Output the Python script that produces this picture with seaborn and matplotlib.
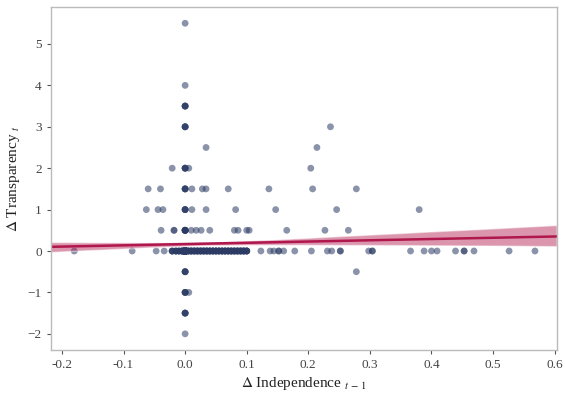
import numpy as np
import pandas as pd
import matplotlib
matplotlib.use("Agg")
import matplotlib.pyplot as plt
import seaborn as sns

# ---- data ----
# off-zero points: x, y and how many observations share that spot
sparse_x = [0, 0, 0, 0.236,
            0, 0.034, 0.214,
            -0.021, 0, 0.006, 0.204,
            -0.06, -0.04, 0, 0.011, 0.028, 0.034, 0.07, 0.136, 0.207, 0.278,
            -0.063, -0.044, -0.036, 0, 0.011, 0.034, 0.082, 0.147, 0.246, 0.38,
            -0.039, -0.018, 0, 0.01, 0.018, 0.026, 0.04, 0.08, 0.086,
            0.1, 0.104, 0.165, 0.227, 0.265,
            0, 0.278,
            0, 0.006,
            0,
            0]
sparse_y = [5.5, 4, 3.5, 3,
            3, 2.5, 2.5,
            2, 2, 2, 2,
            1.5, 1.5, 1.5, 1.5, 1.5, 1.5, 1.5, 1.5, 1.5, 1.5,
            1, 1, 1, 1, 1, 1, 1, 1, 1, 1,
            0.5, 0.5, 0.5, 0.5, 0.5, 0.5, 0.5, 0.5, 0.5,
            0.5, 0.5, 0.5, 0.5, 0.5,
            -0.5, -0.5,
            -1, -1,
            -1.5,
            -2]
sparse_n = [1, 1, 4, 1,
            4, 1, 1,
            1, 4, 1, 1,
            1, 1, 4, 1, 1, 1, 1, 1, 1, 1,
            1, 1, 1, 4, 1, 1, 1, 1, 1, 1,
            1, 2, 7, 1, 1, 1, 1, 1, 1,
            1, 1, 1, 1, 1,
            4, 1,
            4, 1,
            4,
            1]

# points on the zero line: x position and how many observations share it
zero_x = [-0.18, -0.086, -0.047, -0.034, -0.021, -0.015, -0.01, -0.005, 0.0,
          0.005, 0.01, 0.015, 0.02, 0.025, 0.03, 0.035, 0.04, 0.045, 0.05,
          0.055, 0.06, 0.065, 0.07, 0.075, 0.08, 0.085, 0.09, 0.095, 0.1,
          0.123, 0.138, 0.144, 0.152, 0.16, 0.178, 0.205, 0.231, 0.238, 0.252,
          0.298, 0.304, 0.366, 0.388, 0.4, 0.409, 0.439, 0.453, 0.469, 0.526, 0.568]
zero_n = [1, 1, 1, 1, 4, 4, 4, 6, 250,
          5, 5, 5, 5, 5, 5, 5, 5, 5, 5,
          5, 5, 5, 5, 5, 5, 5, 5, 5, 5,
          1, 1, 1, 2, 1, 1, 1, 1, 1, 2,
          1, 2, 1, 1, 1, 1, 1, 2, 1, 1, 1]

x_all = np.concatenate([np.repeat(sparse_x, sparse_n), np.repeat(zero_x, zero_n)])
y_all = np.concatenate([np.repeat(sparse_y, sparse_n), np.zeros(int(np.sum(zero_n)))])
df = pd.DataFrame({"dind": x_all, "dtrans": y_all})

xticks = [-0.2, -0.1, 0.0, 0.1, 0.2, 0.3, 0.4, 0.5, 0.6]
yticks = [-2, -1, 0, 1, 2, 3, 4, 5]

# ---- style ----
sns.set_style("ticks")
plt.rcParams["font.family"] = ["Liberation Serif", "DejaVu Serif"]
plt.rcParams["mathtext.fontset"] = "stix"

fig = plt.figure(figsize=(5.65, 3.95), dpi=100)
ax = fig.add_axes([0.09, 0.114, 0.895, 0.868])

sns.scatterplot(data=df, x="dind", y="dtrans", ax=ax, color="#2b3b63",
                alpha=0.55, s=24, edgecolor="none", linewidth=0)
ax.set_xlim(-0.218, 0.603)
ax.set_ylim(-2.39, 5.89)

sns.regplot(data=df, x="dind", y="dtrans", ax=ax, scatter=False, truncate=False,
            ci=80, seed=0, color="#b0174c", line_kws={"linewidth": 1.8})
ax.collections[-1].set_alpha(0.45)
ax.set_xlim(-0.218, 0.603)

ax.set_xticks(xticks)
ax.set_xticklabels([f"{v:.1f}" for v in xticks])
ax.set_yticks(yticks)
ax.set_yticklabels([f"{v}" if v >= 0 else f"\u2212{abs(v)}" for v in yticks])
ax.tick_params(labelsize=9.5, colors="#555555", length=3, width=0.8)
for lab in ax.get_xticklabels() + ax.get_yticklabels():
    lab.set_color("#444444")
for sp in ax.spines.values():
    sp.set_color("#bbbbbb")
    sp.set_linewidth(1.0)

ax.set_xlabel(r"$\Delta$ Independence $_{t\,-\,1}$", fontsize=11, color="#222222", labelpad=3)
ax.set_ylabel(r"$\Delta$ Transparency $_{t}$", fontsize=11, color="#222222", labelpad=4)

fig.savefig("out.png", dpi=100)
